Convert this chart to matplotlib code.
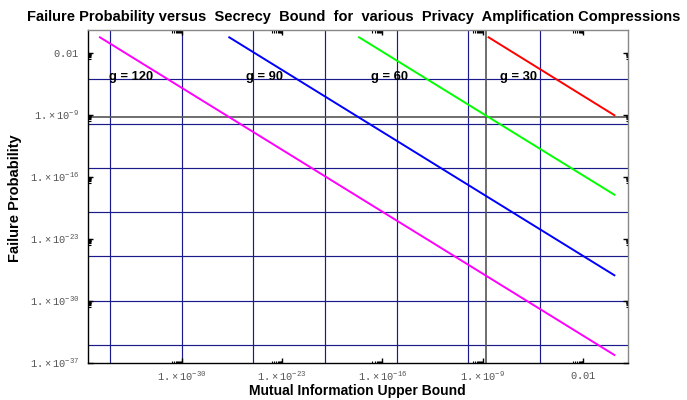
import numpy as np
import matplotlib
matplotlib.use("Agg")
import matplotlib.pyplot as plt
from matplotlib.ticker import FixedLocator, NullFormatter

plt.rcParams['mathtext.fontset'] = 'custom'
plt.rcParams['mathtext.rm'] = 'Liberation Mono'
plt.rcParams['mathtext.it'] = 'Liberation Mono'

# ---- data ----
g_values = [120, 90, 60, 30]
line_colors = ['#ff00ff', '#0000ff', '#00ff00', '#ff0000']
mi_start = [2.0e-36, 2.1e-27, 2.4e-18, 2.6e-9]
mi_end = [1.55, 1.55, 1.55, 1.55]
fp_start = [0.55, 0.55, 0.55, 0.55]
fp_end = [7.4e-37, 7.4e-28, 9.3e-19, 8.7e-10]
label_x = [10**-33.53, 10**-24.25, 10**-15.53, 10**-6.48]
label_y = 10**-4.72

x_major_exp = [-30, -23, -16, -9, -2]
y_major_exp = [-37, -30, -23, -16, -9, -2]
x_tick_labels = [r'$1.\times10^{-30}$', r'$1.\times10^{-23}$', r'$1.\times10^{-16}$',
                 r'$1.\times10^{-9}$', r'$0.01$']
y_tick_labels = [r'$1.\times10^{-37}$', r'$1.\times10^{-30}$', r'$1.\times10^{-23}$',
                 r'$1.\times10^{-16}$', r'$1.\times10^{-9}$', r'$0.01$']
grid_exp = [-35, -30, -25, -20, -15, -10, -5]
gray_grid_x = 1.7e-9
gray_grid_y = 5.1e-10

fig = plt.figure(figsize=(6.87, 4.0), dpi=100)
ax = fig.add_axes([0.128, 0.0933, 0.9137 - 0.128, 0.925 - 0.0933])
ax.set_xscale('log')
ax.set_yscale('log')
ax.set_xlim(10**-36.535, 10**1.12)
ax.set_ylim(10**-37.0, 10**0.566)

grid_color = '#1a1a8a'
for e in grid_exp:
    ax.axvline(10.0**e, color=grid_color, lw=0.85, zorder=1)
    ax.axhline(10.0**e, color=grid_color, lw=0.85, zorder=1)
ax.axvline(gray_grid_x, color='#555555', lw=1.2, zorder=1)
ax.axhline(gray_grid_y, color='#555555', lw=1.2, zorder=1)

for xs, xe, ys, ye, c in zip(mi_start, mi_end, fp_start, fp_end, line_colors):
    ax.plot([xs, xe], [ys, ye], color=c, lw=1.4, zorder=3)

for g, lx in zip(g_values, label_x):
    ax.text(lx, label_y, f'g = {g}', ha='center', va='center', fontsize=9.3,
            fontweight='bold', family='Liberation Sans', zorder=4)

# ticks
ax.xaxis.set_major_locator(FixedLocator([10.0**e for e in x_major_exp]))
ax.yaxis.set_major_locator(FixedLocator([10.0**e for e in y_major_exp]))
x_minor = [k * 10.0**(e - 1) for e in x_major_exp for k in range(2, 10)]
y_minor = [k * 10.0**(e - 1) for e in y_major_exp[1:] for k in range(2, 10)]
ax.xaxis.set_minor_locator(FixedLocator(x_minor))
ax.yaxis.set_minor_locator(FixedLocator(y_minor))
ax.xaxis.set_minor_formatter(NullFormatter())
ax.yaxis.set_minor_formatter(NullFormatter())
ax.set_xticklabels(x_tick_labels)
ax.set_yticklabels(y_tick_labels)
ax.tick_params(which='both', direction='in', top=True, right=True, colors='black',
               labelcolor='#555555', labelsize=7.5)
ax.tick_params(which='major', length=3.5, width=1.0)
ax.tick_params(axis='x', which='major', pad=5)
ax.tick_params(axis='y', which='major', pad=6)
ax.tick_params(which='minor', length=1.8, width=0.8)

for s in ['left', 'bottom']:
    ax.spines[s].set_color('black')
    ax.spines[s].set_linewidth(1.0)
for s in ['top', 'right']:
    ax.spines[s].set_color('#888888')
    ax.spines[s].set_linewidth(1.0)

fig.text(357 / 687, 1 - 391.5 / 400, 'Mutual Information Upper Bound', fontsize=10,
         fontweight='bold', family='Liberation Sans', ha='center', va='center')
fig.text(15 / 687, 1 - 198 / 400, 'Failure Probability', fontsize=10.5, rotation=90,
         fontweight='bold', family='Liberation Sans', ha='center', va='center')
fig.text(354 / 687, 1 - 17 / 400,
         'Failure Probability versus  Secrecy  Bound  for  various  Privacy  Amplification Compressions',
         ha='center', va='center', fontsize=10.5, fontweight='bold', family='Liberation Sans')

fig.savefig('out.png', dpi=100)
